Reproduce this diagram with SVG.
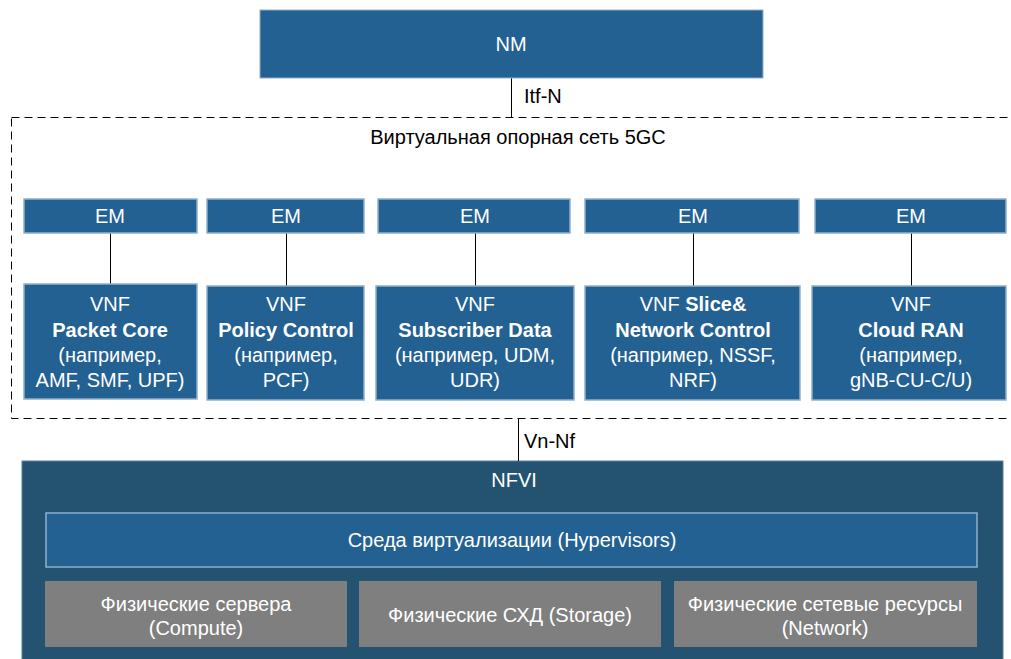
<svg xmlns="http://www.w3.org/2000/svg" width="1011" height="659" viewBox="0 0 1011 659">
<style>
text{font-family:"Liberation Sans",Arial,sans-serif;font-size:20px;text-anchor:middle}
.w{fill:#ffffff}
.k{fill:#000000}
.lbl{text-anchor:start}
.b{font-weight:bold}
.box{fill:#236192;stroke:#8fb0cc;stroke-width:1.5}
.nm{fill:#236192;stroke:#8fb0cc;stroke-width:1}
.gray{fill:#7f7f7f}
.ln{stroke:#000;stroke-width:1;fill:none}
</style>
<rect width="1011" height="659" fill="#ffffff"/>
<g id="nfvi">
<rect x="22" y="461" width="981" height="200" fill="#235371" stroke="#5a7f99" stroke-width="1"/>
<text x="514" y="487" class="w">NFVI</text>
</g>
<g id="hypervisor">
<rect x="46" y="513" width="931" height="54" class="box"/>
<text x="512" y="547" class="w">Среда виртуализации (Hypervisors)</text>
</g>
<g id="compute">
<rect x="45" y="581" width="302" height="66" class="gray"/>
<text x="196" y="611" class="w">Физические сервера</text>
<text x="196" y="635" class="w">(Compute)</text>
</g>
<g id="storage">
<rect x="359" y="581" width="302" height="66" class="gray"/>
<text x="510" y="622" class="w">Физические СХД (Storage)</text>
</g>
<g id="network">
<rect x="674" y="581" width="303" height="66" class="gray"/>
<text x="825" y="611" class="w">Физические сетевые ресурсы</text>
<text x="825" y="635" class="w">(Network)</text>
</g>
<g id="connectors">
<line x1="511.5" y1="78" x2="511.5" y2="117" class="ln"/>
<line x1="518.5" y1="419" x2="518.5" y2="461" class="ln"/>
<line x1="110.5" y1="233" x2="110.5" y2="284" class="ln"/>
<line x1="286.5" y1="233" x2="286.5" y2="286" class="ln"/>
<line x1="475.5" y1="233" x2="475.5" y2="286" class="ln"/>
<line x1="693.5" y1="233" x2="693.5" y2="286" class="ln"/>
<line x1="911.5" y1="233" x2="911.5" y2="286" class="ln"/>
<text x="524" y="103" class="k lbl">Itf-N</text>
<text x="524" y="448" class="k lbl">Vn-Nf</text>
</g>
<g id="vcore">
<rect x="11.5" y="117.5" width="1010" height="301" fill="none" stroke="#000" stroke-width="1" stroke-dasharray="8,5"/>
<text x="518" y="144" class="k">Виртуальная опорная сеть 5GC</text>
</g>
<g id="nm">
<rect x="260" y="10" width="503" height="68" class="nm"/>
<text x="511" y="51" class="w">NM</text>
</g>
<g id="em1"><rect x="24" y="199" width="173" height="34" class="box"/><text x="110" y="223" class="w">EM</text></g>
<g id="em2"><rect x="207" y="199" width="157" height="34" class="box"/><text x="286" y="223" class="w">EM</text></g>
<g id="em3"><rect x="378" y="199" width="192" height="34" class="box"/><text x="475" y="223" class="w">EM</text></g>
<g id="em4"><rect x="585" y="199" width="214" height="34" class="box"/><text x="693" y="223" class="w">EM</text></g>
<g id="em5"><rect x="815" y="199" width="191" height="34" class="box"/><text x="911" y="223" class="w">EM</text></g>
<g id="vnf1">
<rect x="24" y="284" width="173" height="115" class="box"/>
<text x="110" y="311" class="w">VNF</text>
<text x="110" y="337" class="w b">Packet Core</text>
<text x="110" y="362" class="w">(например,</text>
<text x="110" y="387" class="w">AMF, SMF, UPF)</text>
</g>
<g id="vnf2">
<rect x="207" y="286" width="157" height="114" class="box"/>
<text x="286" y="311" class="w">VNF</text>
<text x="286" y="337" class="w b">Policy Control</text>
<text x="286" y="362" class="w">(например,</text>
<text x="286" y="387" class="w">PCF)</text>
</g>
<g id="vnf3">
<rect x="376" y="286" width="198" height="114" class="box"/>
<text x="475" y="311" class="w">VNF</text>
<text x="475" y="337" class="w b">Subscriber Data</text>
<text x="475" y="362" class="w">(например, UDM,</text>
<text x="475" y="387" class="w">UDR)</text>
</g>
<g id="vnf4">
<rect x="585" y="286" width="215" height="114" class="box"/>
<text x="693" y="311" class="w">VNF <tspan class="b">Slice&amp;</tspan></text>
<text x="693" y="337" class="w b">Network Control</text>
<text x="693" y="362" class="w">(например, NSSF,</text>
<text x="693" y="387" class="w">NRF)</text>
</g>
<g id="vnf5">
<rect x="812" y="286" width="194" height="114" class="box"/>
<text x="911" y="311" class="w">VNF</text>
<text x="911" y="337" class="w b">Cloud RAN</text>
<text x="911" y="362" class="w">(например,</text>
<text x="911" y="387" class="w">gNB-CU-C/U)</text>
</g>
</svg>
